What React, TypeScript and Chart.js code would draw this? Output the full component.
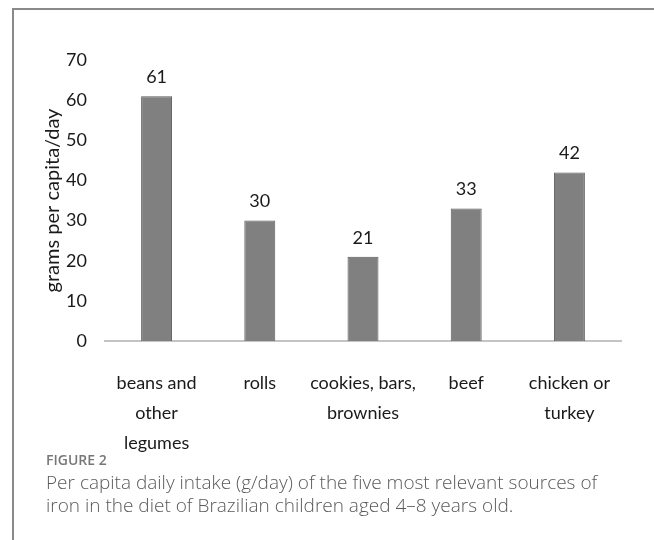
import React, { useEffect, useRef } from "react";
import { Chart, registerables } from "chart.js";

Chart.register(...registerables);

const categories: string[][] = [
  ["beans and", "other", "legumes"],
  ["rolls"],
  ["cookies, bars,", "brownies"],
  ["beef"],
  ["chicken or", "turkey"],
];
const values: number[] = [61, 30, 21, 33, 42];
const yTicks: number[] = [0, 10, 20, 30, 40, 50, 60, 70];
const yTitle = "grams per capita/day";
const figureLabel = "FIGURE 2";
const captionLines: string[] = [
  "Per capita daily intake (g/day) of the five most relevant sources of",
  "iron in the diet of Brazilian children aged 4\u20138 years old.",
];

const FONT = "Lato, 'Noto Sans', sans-serif";

const valueLabels = {
  id: "valueLabels",
  afterDatasetsDraw(chart: any) {
    const { ctx } = chart;
    const meta = chart.getDatasetMeta(0);
    ctx.save();
    ctx.font = `18px ${FONT}`;
    ctx.fillStyle = "#1a1a1a";
    ctx.textAlign = "center";
    ctx.textBaseline = "middle";
    meta.data.forEach((bar: any, i: number) => {
      ctx.fillText(String(values[i]), bar.x, bar.y - 19);
    });
    ctx.restore();
  },
};

export default function App() {
  const ref = useRef<HTMLCanvasElement | null>(null);
  useEffect(() => {
    if (!ref.current) return;
    const chart = new Chart(ref.current, {
      type: "bar",
      data: {
        labels: categories,
        datasets: [
          {
            data: values,
            backgroundColor: "#808080",
            borderColor: "#5a5a5a",
            borderWidth: 1,
            barPercentage: 0.3,
            categoryPercentage: 1,
          },
        ],
      },
      options: {
        animation: false,
        responsive: false,
        layout: { padding: { top: 60, left: 30, right: 33, bottom: 0 } },
        plugins: { legend: { display: false }, tooltip: { enabled: false } },
        scales: {
          x: {
            grid: { display: false, drawTicks: false },
            border: { display: true, color: "#c4c4c4", width: 2 },
            ticks: {
              color: "#1a1a1a",
              padding: 27,
              maxRotation: 0,
              autoSkip: false,
              font: { family: FONT, size: 18, lineHeight: 1.66 },
            },
            afterFit: (s: any) => {
              s.height = 129;
            },
          },
          y: {
            min: 0,
            max: 70,
            afterBuildTicks: (s: any) => {
              s.ticks = yTicks.map((v) => ({ value: v }));
            },
            grid: { display: false, drawTicks: false },
            border: { display: false },
            ticks: {
              color: "#1a1a1a",
              padding: 18,
              font: { family: FONT, size: 18 },
            },
            title: {
              display: true,
              text: yTitle,
              color: "#1a1a1a",
              padding: { top: 11, bottom: 0 },
              font: { family: FONT, size: 20, lineHeight: 1.2 },
            },
            afterFit: (s: any) => {
              s.width = 75;
            },
          },
        },
      },
      plugins: [valueLabels],
    });
    return () => chart.destroy();
  }, []);

  return (
    <div style={{ position: "fixed", left: 0, top: 0, width: 654, height: 540, background: "#fff", overflow: "hidden" }}>
      <div
        style={{
          position: "absolute",
          left: 12,
          top: 8,
          width: 700,
          height: 600,
          borderTop: "2px solid #8a8a8a",
          borderLeft: "2px solid #8a8a8a",
        }}
      />
      <canvas ref={ref} width={654} height={470} style={{ position: "absolute", left: 0, top: 0 }} />
      <div
        style={{
          position: "absolute",
          left: 46,
          top: 450,
          fontFamily: "'Open Sans', sans-serif",
          fontSize: 14,
          fontWeight: 600,
          color: "#777",
          lineHeight: "20px",
        }}
      >
        {figureLabel}
      </div>
      <div
        style={{
          position: "absolute",
          left: 46,
          top: 471,
          fontFamily: "'Open Sans', sans-serif",
          fontSize: 19,
          fontWeight: 300,
          color: "#5a5a5a",
          lineHeight: "23px",
          whiteSpace: "nowrap",
        }}
      >
        {captionLines.map((l, i) => (
          <div key={i}>{l}</div>
        ))}
      </div>
    </div>
  );
}
